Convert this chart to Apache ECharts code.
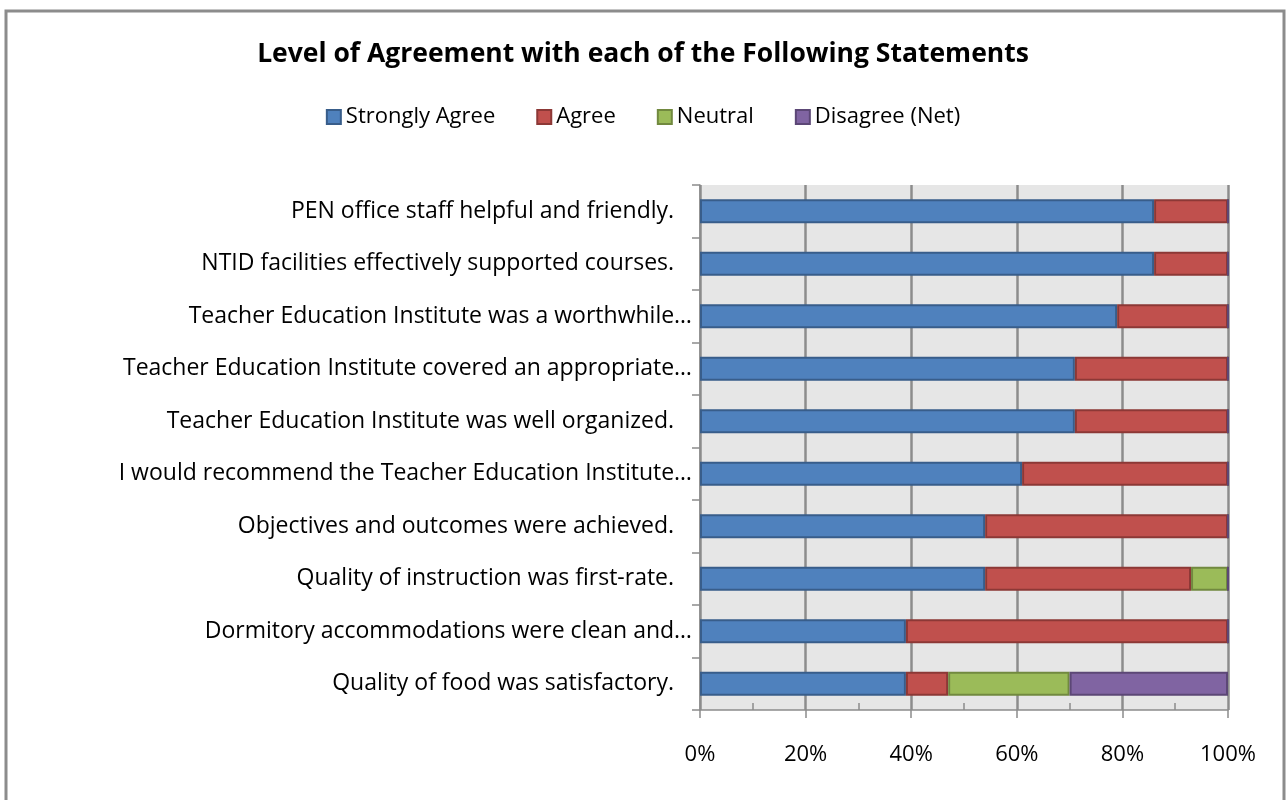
<!DOCTYPE html>
<html>
<head>
<meta charset="utf-8">
<script src="https://cdn.jsdelivr.net/npm/echarts@6/dist/echarts.min.js"></script>
<style>
  html, body { margin: 0; padding: 0; background: #fff; }
  #chart { width: 1286px; height: 800px; }
</style>
</head>
<body>
<div id="chart"></div>
<script>
// statements, top to bottom
const statements = [
  'PEN office staff helpful and friendly.',
  'NTID facilities effectively supported courses.',
  'Teacher Education Institute was a worthwhile…',
  'Teacher Education Institute covered an appropriate…',
  'Teacher Education Institute was well organized.',
  'I would recommend the Teacher Education Institute…',
  'Objectives and outcomes were achieved.',
  'Quality of instruction was first-rate.',
  'Dormitory accommodations were clean and…',
  'Quality of food was satisfactory.'
]
const strongly = [86, 86, 79, 71, 71, 61, 54, 54, 39, 39]
const agree = [14, 14, 21, 29, 29, 39, 46, 39, 61, 8]
const neutral = [0, 0, 0, 0, 0, 0, 0, 7, 0, 23]
const disagree = [0, 0, 0, 0, 0, 0, 0, 0, 0, 30]

const font = 'Open Sans'

const mkSeries = (name, data, color, border) => ({
  name,
  type: 'bar',
  stack: 'total',
  data,
  barWidth: '46%',
  itemStyle: { color, borderColor: border, borderWidth: 2 }
})

const chart = echarts.init(document.getElementById('chart'))
chart.setOption({
  animation: false,
  backgroundColor: '#fff',
  graphic: [{
    type: 'rect',
    shape: { x: 6, y: 11, width: 1278, height: 800 },
    style: { fill: 'none', stroke: '#8c8c8c', lineWidth: 3 },
    z: 10
  }],
  title: {
    text: 'Level of Agreement with each of the Following Statements',
    left: 'center',
    top: 36,
    textStyle: { fontFamily: font, fontSize: 26.5, fontWeight: 'bold', color: '#000' }
  },
  legend: {
    top: 101,
    left: 'center',
    icon: 'rect',
    itemWidth: 14,
    itemHeight: 14,
    itemGap: 41,
    textStyle: { fontFamily: font, fontSize: 22, color: '#000' },
    data: ['Strongly Agree', 'Agree', 'Neutral', 'Disagree (Net)']
  },
  grid: { left: 700, right: 58, top: 185, bottom: 90, backgroundColor: '#e6e6e6', show: true, borderWidth: 0 },
  xAxis: {
    type: 'value',
    min: 0,
    max: 100,
    interval: 20,
    axisLine: { show: true, lineStyle: { color: '#8c8c8c', width: 1.5 } },
    axisTick: { show: true, length: 8, lineStyle: { color: '#8c8c8c', width: 1.5 } },
    minorTick: { show: true, splitNumber: 2, length: -7, lineStyle: { color: '#8c8c8c', width: 1.5 } },
    splitLine: { show: true, lineStyle: { color: '#8c8c8c', width: 2.5 } },
    axisLabel: { formatter: '{value}%', margin: 34, fontFamily: font, fontSize: 22, color: '#000' }
  },
  yAxis: {
    type: 'category',
    inverse: true,
    data: statements,
    axisLine: { show: true, lineStyle: { color: '#8c8c8c', width: 1.5 } },
    axisTick: { show: true, length: 8, lineStyle: { color: '#8c8c8c', width: 1.5 } },
    axisLabel: {
      margin: 8,
      fontFamily: font,
      fontSize: 23,
      color: '#000',
      formatter: v => v.endsWith('…') ? v : v + '   '
    }
  },
  series: [
    mkSeries('Strongly Agree', strongly, '#4f81bd', '#385d8a'),
    mkSeries('Agree', agree, '#c0504d', '#8c3836'),
    mkSeries('Neutral', neutral, '#9bbb59', '#71893f'),
    mkSeries('Disagree (Net)', disagree, '#8064a2', '#5c4776')
  ]
})
</script>
</body>
</html>
